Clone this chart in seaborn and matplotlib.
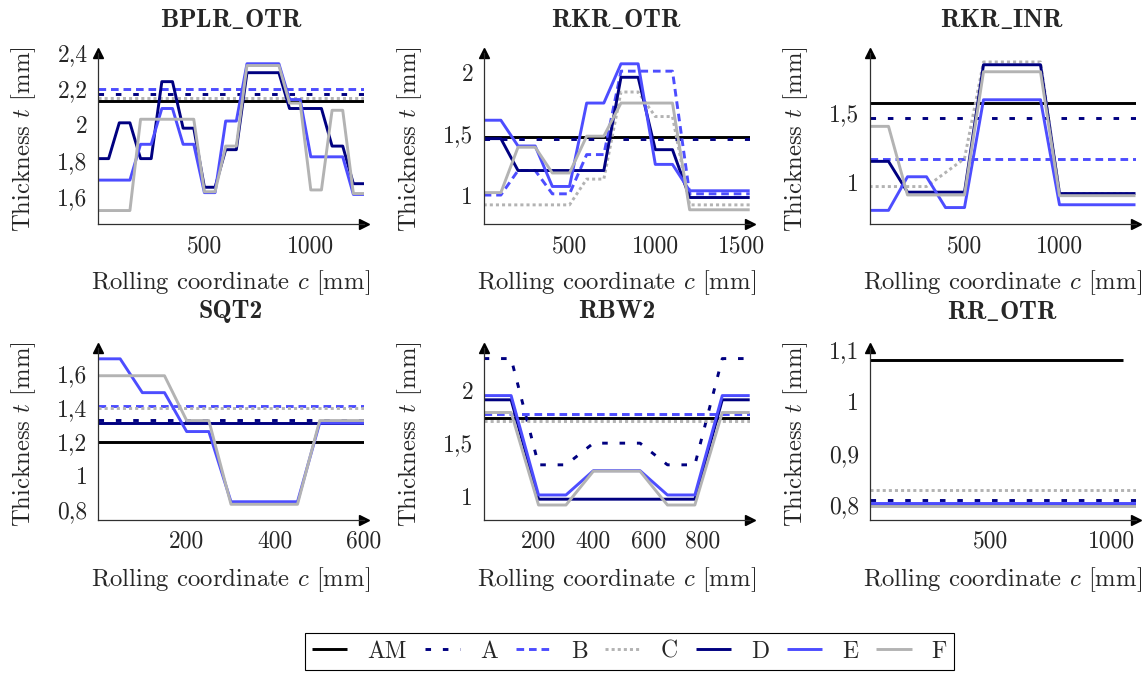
import matplotlib
matplotlib.use("Agg")
import matplotlib.pyplot as plt
from matplotlib.lines import Line2D
from matplotlib.ticker import FixedLocator, FuncFormatter
import pandas as pd
import seaborn as sns

# ---------------------------------------------------------------- data
SERIES = ["AM", "A", "B", "C", "D", "E", "F"]

# BPLR_OTR
bplr_c = list(range(0, 1251, 50))
bplr_D = [1.81, 1.81, 2.01, 2.01, 1.81, 1.81, 2.24, 2.24, 1.98, 1.98, 1.65, 1.65, 1.86,
          1.86, 2.29, 2.29, 2.29, 2.29, 2.09, 2.09, 2.09, 2.09, 1.88, 1.88, 1.67, 1.67]
bplr_E = [1.69, 1.69, 1.69, 1.69, 1.89, 1.89, 2.09, 2.09, 1.89, 1.89, 1.62, 1.62, 2.02,
          2.02, 2.34, 2.34, 2.34, 2.34, 2.14, 2.14, 1.82, 1.82, 1.82, 1.82, 1.61, 1.61]
bplr_F = [1.52, 1.52, 1.52, 1.52, 2.03, 2.03, 2.03, 2.03, 2.03, 2.03, 1.625, 1.625, 1.88,
          1.88, 2.33, 2.33, 2.33, 2.33, 2.12, 2.12, 1.635, 1.635, 2.08, 2.08, 1.615, 1.615]
bplr_flat = {"AM": 2.13, "A": 2.17, "B": 2.20, "C": 2.15}

# RKR_OTR
rkro_c = [0, 100, 200, 300, 400, 500, 600, 700, 800, 900, 1000, 1100, 1200, 1300, 1400, 1500, 1550]
rkro_B = [1.00, 1.00, 1.20, 1.20, 1.01, 1.01, 1.33, 1.33, 2.01, 2.01, 2.01, 2.01, 1.01, 1.01, 1.01, 1.01, 1.01]
rkro_C = [0.92, 0.92, 0.92, 0.92, 0.92, 0.92, 1.13, 1.13, 1.84, 1.84, 1.64, 1.64, 0.92, 0.92, 0.92, 0.92, 0.92]
rkro_D = [1.46, 1.46, 1.20, 1.20, 1.20, 1.20, 1.20, 1.20, 1.96, 1.96, 1.37, 1.37, 0.98, 0.98, 0.98, 0.98, 0.98]
rkro_E = [1.61, 1.61, 1.40, 1.40, 1.07, 1.07, 1.75, 1.75, 2.07, 2.07, 1.25, 1.25, 1.035, 1.035, 1.035, 1.035, 1.035]
rkro_F = [1.02, 1.02, 1.39, 1.39, 1.18, 1.18, 1.48, 1.48, 1.75, 1.75, 1.75, 1.75, 0.88, 0.88, 0.88, 0.88, 0.88]
rkro_flat = {"AM": 1.47, "A": 1.46}

# RKR_INR
rkri_c = [0, 100, 200, 300, 400, 500, 600, 700, 800, 900, 1000, 1100, 1200, 1300, 1400]
rkri_C = [0.97, 0.97, 0.97, 0.97, 1.07, 1.17, 1.86, 1.86, 1.86, 1.86, 0.92, 0.92, 0.92, 0.92, 0.92]
rkri_D = [1.15, 1.15, 0.93, 0.93, 0.93, 0.93, 1.84, 1.84, 1.84, 1.84, 0.92, 0.92, 0.92, 0.92, 0.92]
rkri_E = [0.80, 0.80, 1.04, 1.04, 0.82, 0.82, 1.59, 1.59, 1.59, 1.59, 0.84, 0.84, 0.84, 0.84, 0.84]
rkri_F = [1.40, 1.40, 0.91, 0.91, 0.91, 0.91, 1.79, 1.79, 1.79, 1.79, 0.905, 0.905, 0.905, 0.905, 0.905]
rkri_flat = {"AM": 1.57, "A": 1.46, "B": 1.17}

# SQT2
sqt_c = list(range(0, 601, 50))
sqt_E = [1.69, 1.69, 1.49, 1.49, 1.26, 1.26, 0.845, 0.845, 0.845, 0.845, 1.31, 1.31, 1.31]
sqt_F = [1.59, 1.59, 1.59, 1.59, 1.325, 1.325, 0.83, 0.83, 0.83, 0.83, 1.325, 1.325, 1.325]
sqt_flat = {"AM": 1.20, "A": 1.33, "B": 1.41, "C": 1.40, "D": 1.31}

# RBW2
rbw_c = [0, 100, 200, 300, 400, 570, 670, 770, 870, 970]
rbw_A = [2.30, 2.30, 1.295, 1.295, 1.50, 1.50, 1.295, 1.295, 2.30, 2.30]
rbw_D = [1.91, 1.91, 0.97, 0.97, 0.97, 0.97, 0.97, 0.97, 1.91, 1.91]
rbw_E = [1.95, 1.95, 1.01, 1.01, 1.24, 1.24, 1.01, 1.01, 1.95, 1.95]
rbw_F = [1.79, 1.79, 0.915, 0.915, 1.235, 1.235, 0.915, 0.915, 1.79, 1.79]
rbw_flat = {"AM": 1.735, "B": 1.78, "C": 1.705}

# RR_OTR
rr_c = [0, 1100]
rr_flat = {"AM": 1.08, "A": 0.81, "B": 0.80, "C": 0.83, "D": 0.80, "E": 0.803, "F": 0.799}
rr_span = {"AM": (0, 1050)}

# ---------------------------------------------------------------- style
COLORS = {"AM": "black", "A": "#000080", "B": "#4d4dff", "C": "#b3b3b3",
          "D": "#000080", "E": "#4d4dff", "F": "#b3b3b3"}
DASHES = {"AM": "", "A": (4.0, 8.5), "B": (5.5, 3.5), "C": (2.2, 2.2),
          "D": "", "E": "", "F": ""}

sns.set_theme(style="white")
plt.rcParams.update({
    "font.family": "serif",
    "font.serif": ["cmr10"],
    "mathtext.fontset": "cm",
    "axes.formatter.use_mathtext": True,
    "axes.unicode_minus": False,
    "lines.scale_dashes": False,
    "lines.solid_capstyle": "butt",
    "lines.dash_capstyle": "butt",
    "font.size": 17,
})

FIG_W, FIG_H = 1148, 673
AX_W = 266
TITLE_SIZE = 18.5
LABEL_SIZE = 17.8


def build_frame(c, profiles, flat, span=None):
    span = span or {}
    rows = []
    for name in SERIES:
        if name in profiles:
            rows += [(x, y, name) for x, y in zip(c, profiles[name])]
        elif name in flat:
            x0, x1 = span.get(name, (c[0], c[-1]))
            rows += [(x0, flat[name], name), (x1, flat[name], name)]
    return pd.DataFrame(rows, columns=["c", "t", "series"])


def add_title(x, y, name):
    if "_" in name:
        # bold letters with a TeX-style low line between the parts
        text = "$" + r"\_".join(r"\mathbf{%s}" % p for p in name.split("_")) + "$"
        fig.text(x, y, text, ha="center", va="center", fontsize=TITLE_SIZE)
    else:
        fig.text(x, y, name, ha="center", va="center", fontsize=TITLE_SIZE,
                 fontfamily="cmb10")


panels = [
    ("BPLR_OTR", build_frame(bplr_c, {"D": bplr_D, "E": bplr_E, "F": bplr_F}, bplr_flat),
     [500, 1000], [1.6, 1.8, 2.0, 2.2, 2.4], (0, 1250), (1.442, 2.40), (98, 53, 224.5)),
    ("RKR_OTR", build_frame(rkro_c, {"B": rkro_B, "C": rkro_C, "D": rkro_D, "E": rkro_E, "F": rkro_F}, rkro_flat),
     [500, 1000, 1500], [1.0, 1.5, 2.0], (0, 1550), (0.760, 2.158), (483.7, 53, 224.5)),
    ("RKR_INR", build_frame(rkri_c, {"C": rkri_C, "D": rkri_D, "E": rkri_E, "F": rkri_F}, rkri_flat),
     [500, 1000], [1.0, 1.5], (0, 1400), (0.699, 1.924), (869.5, 53, 224.5)),
    ("SQT2", build_frame(sqt_c, {"E": sqt_E, "F": sqt_F}, sqt_flat),
     [200, 400, 600], [0.8, 1.0, 1.2, 1.4, 1.6], (0, 600), (0.740, 1.754), (98, 348, 519.5)),
    ("RBW2", build_frame(rbw_c, {"A": rbw_A, "D": rbw_D, "E": rbw_E, "F": rbw_F}, rbw_flat),
     [200, 400, 600, 800], [1.0, 1.5, 2.0], (0, 970), (0.778, 2.40), (483.7, 348, 519.5)),
    ("RR_OTR", build_frame(rr_c, {}, rr_flat, rr_span),
     [500, 1000], [0.8, 0.9, 1.0, 1.1], (0, 1100), (0.772, 1.104), (869.5, 348, 519.5)),
]

comma = FuncFormatter(lambda v, _: f"{v:g}".replace(".", ","))

fig = plt.figure(figsize=(FIG_W / 100, FIG_H / 100), dpi=100)

for title, df, xt, yt, xlim, ylim, (left, top, bottom) in panels:
    ax = fig.add_axes([left / FIG_W, 1 - bottom / FIG_H, AX_W / FIG_W, (bottom - top) / FIG_H])
    order = [s for s in SERIES if s in set(df["series"])]
    sns.lineplot(data=df, x="c", y="t", hue="series", style="series",
                 hue_order=order, style_order=order,
                 palette={k: COLORS[k] for k in order},
                 dashes={k: DASHES[k] for k in order},
                 estimator=None, sort=False, linewidth=2.1, legend=False, ax=ax)
    ax.set_xlim(*xlim)
    ax.set_ylim(*ylim)
    ax.xaxis.set_major_locator(FixedLocator(xt))
    ax.yaxis.set_major_locator(FixedLocator(yt))
    ax.xaxis.set_major_formatter(comma)
    ax.yaxis.set_major_formatter(comma)
    ax.tick_params(direction="inout", length=7, width=0.6, color="#707070",
                   labelsize=17, pad=4)
    for side in ("top", "right"):
        ax.spines[side].set_visible(False)
    for side in ("left", "bottom"):
        ax.spines[side].set_color("#303030")
        ax.spines[side].set_linewidth(0.9)
    ax.plot([1], [0], marker=">", color="black", markersize=7,
            transform=ax.transAxes, clip_on=False)
    ax.plot([0], [1], marker="^", color="black", markersize=7,
            transform=ax.transAxes, clip_on=False)

    ax.set_xlabel(r"Rolling coordinate $c$ [mm]", fontsize=LABEL_SIZE)
    ax.set_ylabel(r"Thickness $t$ [mm]", fontsize=LABEL_SIZE)
    ax.xaxis.set_label_coords(0.5, (bottom - (283 if top < 100 else 580)) / (bottom - top))
    ax.xaxis.label.set_va("center")
    ax.yaxis.set_label_coords(-0.279, 0.5)
    ax.yaxis.label.set_va("center")

    add_title((left + AX_W / 2) / FIG_W, 1 - (20 if top < 100 else 311.7) / FIG_H, title)

handles = [Line2D([], [], color=COLORS[s], linewidth=2.1,
                  dashes=DASHES[s] if DASHES[s] else (None, None)) for s in SERIES]
leg = fig.legend(handles, SERIES, loc="center", ncol=7,
                 bbox_to_anchor=(629.5 / FIG_W, 1 - 651.5 / FIG_H),
                 frameon=True, fancybox=False, framealpha=1, edgecolor="black",
                 fontsize=17, handlelength=1.5, handletextpad=0.85,
                 columnspacing=0.75, borderpad=0.3)
leg.get_frame().set_linewidth(0.8)

fig.savefig("out.png", dpi=100)
